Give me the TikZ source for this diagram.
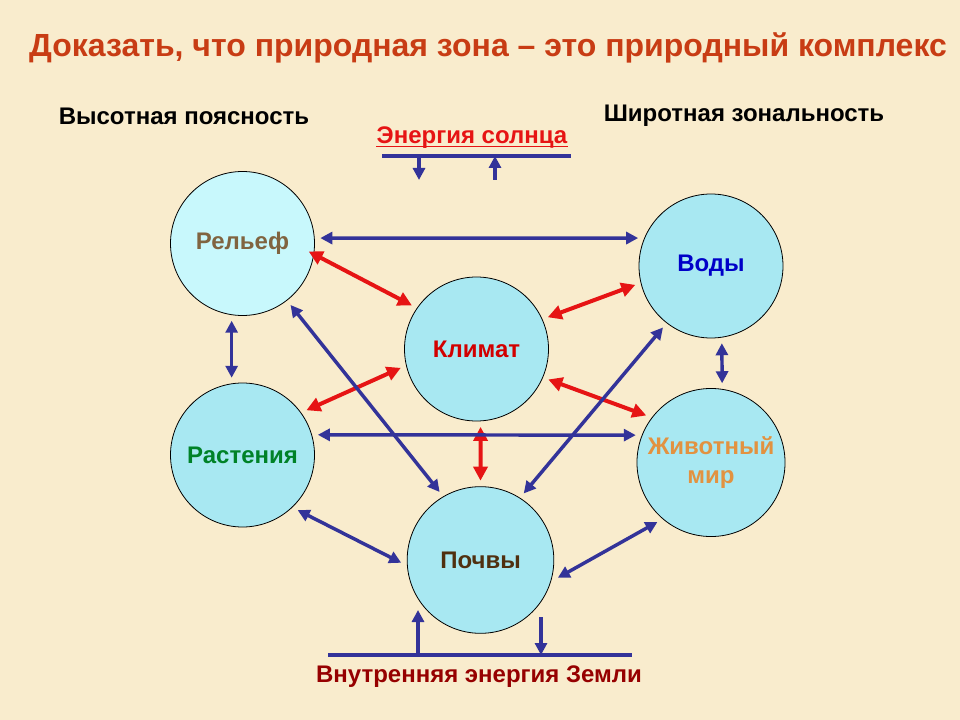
\documentclass[tikz,border=0pt]{standalone}
\usepackage{fontspec}
\setmainfont{Liberation Sans}
\usetikzlibrary{arrows.meta}
\definecolor{paper}{RGB}{249,236,205}
\definecolor{spherefill}{RGB}{168,232,242}
\definecolor{spherelight}{RGB}{200,248,252}
\definecolor{linkblue}{RGB}{51,51,153}
\definecolor{linkred}{RGB}{230,20,20}
\definecolor{titlered}{RGB}{200,60,20}
\definecolor{reliefbrown}{RGB}{128,100,64}
\definecolor{waterblue}{RGB}{0,0,200}
\definecolor{climatered}{RGB}{210,0,0}
\definecolor{plantgreen}{RGB}{0,130,40}
\definecolor{animalorange}{RGB}{226,146,64}
\definecolor{soilbrown}{RGB}{80,48,16}
\definecolor{earthred}{RGB}{150,0,0}
\tikzset{
  sphere/.style={circle,draw=black,line width=0.6pt,fill=spherefill,minimum size=108pt,
    outer sep=4.5pt,align=center,font=\fontsize{18}{22}\selectfont\bfseries},
  caption/.style={font=\fontsize{18}{22}\selectfont\bfseries},
  link/.style={draw=linkblue,line width=2.6pt,{Triangle[length=9pt,width=9pt]}-{Triangle[length=9pt,width=9pt]}},
  redlink/.style={draw=linkred,line width=3pt,{Triangle[length=10.5pt,width=10.5pt]}-{Triangle[length=10.5pt,width=10.5pt]}},
  flow/.style={draw=linkblue,line width=2.6pt,-{Triangle[length=9pt,width=9pt]}},
  bar/.style={draw=linkblue,line width=3pt}
}
\begin{document}
\begin{tikzpicture}[x=0.75pt,y=-0.75pt]
\useasboundingbox (0,0) rectangle (960,720);
\fill[paper] (0,0) rectangle (960,720);
% headings
\node[font=\fontsize{24}{28}\selectfont\bfseries,text=titlered] (title) at (488,48)
  {Доказать, что природная зона – это природный комплекс};
\node[caption] (altitude) at (184,116) {Высотная поясность};
\node[caption] (latitude) at (744,116) {Широтная зональность};
\node[caption,text=linkred,inner sep=0pt] (sun) at (472,138) {Энергия солнца};
\draw[linkred,line width=1.3pt] ([yshift=-2pt]sun.base west) -- ([yshift=-2pt]sun.base east);
\node[caption,text=earthred] (earth) at (479,677) {Внутренняя энергия Земли};
% components
\node[sphere,fill=spherelight,text=reliefbrown] (relief) at (242.5,243.5) {Рельеф};
\node[sphere,text=waterblue] (water) at (711,266) {Воды};
\node[sphere,text=climatered] (climate) at (476.5,349) {Климат};
\node[sphere,text=plantgreen] (plants) at (242.5,455) {Растения};
\node[sphere,text=animalorange] (animals) at (711,462.5) {Животный\\мир};
\node[sphere,minimum size=110pt,text=soilbrown] (soil) at (480.5,560) {Почвы};
% energy bars
\coordinate (sunL) at (382,156);
\coordinate (sunR) at (571,156);
\coordinate (sunin) at (419,156);
\coordinate (sunout) at (495,156);
\draw[bar] (sunL) -- (sunR);
\draw[flow] (sunin) -- ++(0,24);
\draw[flow] (sunout) ++(0,24) -- (sunout);
\coordinate (earthL) at (328,655);
\coordinate (earthR) at (632,655);
\coordinate (earthup) at (418,655);
\coordinate (earthdown) at (541,655);
\draw[bar] (earthL) -- (earthR);
\draw[flow] (earthup) -- ++(0,-45);
\draw[flow] (earthdown) ++(0,-38) -- (earthdown);
% links to climate
\draw[redlink,shorten <=-9pt] (relief.-10) -- (climate.146);
\draw[redlink] (climate.24) -- (water.194);
\draw[redlink] (plants.35) -- (climate.194);
\draw[redlink] (climate.-23) -- (animals.144);
\draw[redlink] (climate.273) -- (soil.90);
% other links
\draw[link] (relief.4) -- (water.159);
\draw[link] (relief.262) -- (plants.98);
\draw[link] (water.278) -- (animals.82);
\draw[link] (relief.-52) -- (soil.121);
\draw[link] (water.232) -- (soil.57);
\draw[link] (plants.15) -- (animals.160);
\draw[link] (plants.-45) -- (soil.182);
\draw[link] (animals.228) -- (soil.-13);
\end{tikzpicture}
\end{document}
